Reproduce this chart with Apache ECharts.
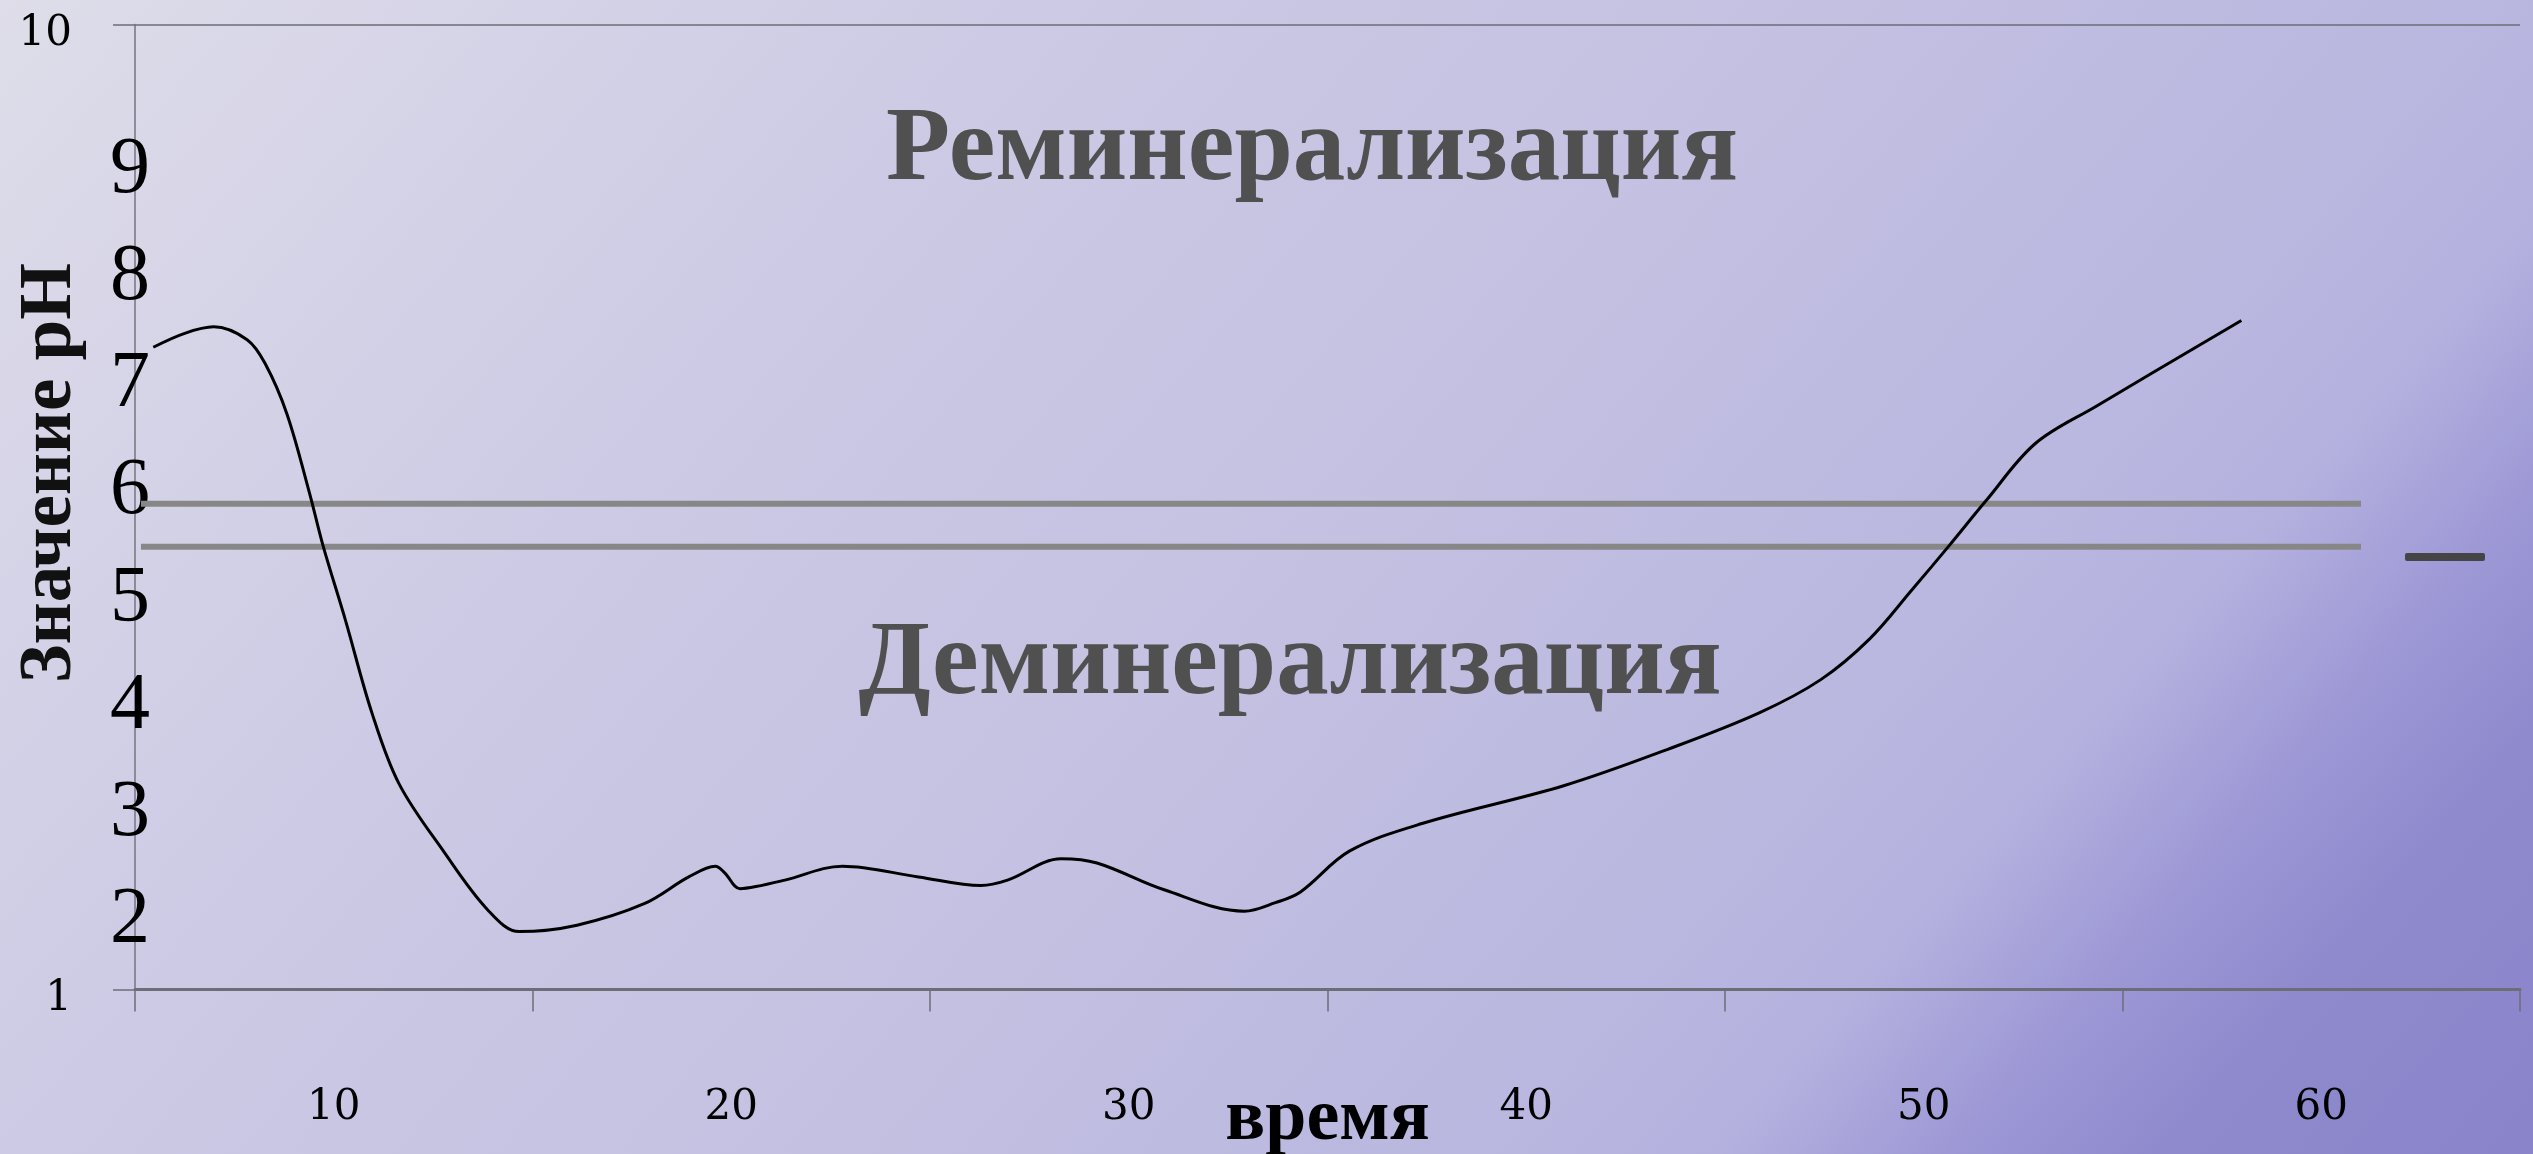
<!DOCTYPE html>
<html>
<head>
<meta charset="utf-8">
<script src="https://cdn.jsdelivr.net/npm/echarts@6/dist/echarts.min.js"></script>
<style>
html,body{margin:0;padding:0;overflow:hidden;}
#chart{width:2533px;height:1154px;}
</style>
</head>
<body>
<div id="chart"></div>
<script>
// ---- data ----
const timeCategories = ['10', '20', '30', '40', '50', '60'];
const timeX = [5.46, 6.25, 6.98, 7.82, 8.27, 8.82, 9.39, 9.73, 10.29, 10.96, 11.64, 12.76, 13.88, 14.67,
  16.12, 17.81, 18.93, 19.60, 19.83, 20.22, 20.62, 21.35, 22.80, 24.71, 26.28, 26.95, 28.30, 29.20,
  30.89, 32.91, 33.69, 34.32, 35.55, 37.40, 40.94, 43.56, 45.86, 47.41, 48.64, 49.71, 50.64, 51.57,
  52.80, 54.34, 57.99];
const phValues = [6.99, 7.12, 7.18, 7.06, 6.84, 6.37, 5.63, 5.14, 4.45, 3.58, 2.92, 2.29, 1.74, 1.54,
  1.60, 1.80, 2.05, 2.15, 2.09, 1.94, 1.96, 2.02, 2.15, 2.05, 1.97, 2.02, 2.22, 2.18,
  1.93, 1.73, 1.81, 1.91, 2.29, 2.55, 2.90, 3.24, 3.58, 3.89, 4.27, 4.73, 5.14, 5.56,
  6.09, 6.44, 7.24];
const thresholdLevels = [5.53, 5.13];
const thresholdSpan = [5.15, 61];
const yEndLabels = [1, 10];
const yBigLabels = [2, 3, 4, 5, 6, 7, 8, 9];
const zoneLabels = ['Реминерализация', 'Деминерализация'];
const yTitle = 'Значение pH';
const xTitle = 'время';

const chart = echarts.init(document.getElementById('chart'), null, {renderer: 'canvas'});

const curve = timeX.map((x, i) => [x, phValues[i]]);
const thresholdSeries = thresholdLevels.map((lv, i) => ({
  name: 'Порог ' + (i + 1),
  type: 'line',
  xAxisIndex: 1,
  yAxisIndex: 0,
  symbol: 'none',
  silent: true,
  lineStyle: {color: '#878787', width: 6, cap: 'butt'},
  data: thresholdSpan.map(x => [x, lv]),
  z: 2
}));

const bg = new echarts.graphic.LinearGradient(0, 0, 2001, 1758, [
  {offset: 0, color: '#dedde9'},
  {offset: 0.29, color: '#cdcae5'},
  {offset: 0.5, color: '#c4c1e2'},
  {offset: 0.7, color: '#bab7e0'},
  {offset: 0.77, color: '#b4b1df'},
  {offset: 0.84, color: '#9c97d5'},
  {offset: 0.895, color: '#8f8acd'},
  {offset: 1, color: '#8a85cb'}
], true);

const option = {
  animation: false,
  grid: {left: 135, right: 13, top: 24.5, bottom: 164.5, outerBoundsMode: 'none'},
  legend: {
    left: 2400, top: 548,
    itemWidth: 80, itemHeight: 8,
    formatter: () => '',
    selectedMode: false,
    data: [{name: 'pH', icon: 'roundRect', itemStyle: {color: '#454545'}}]
  },
  xAxis: [
    {
      type: 'category',
      data: timeCategories,
      boundaryGap: true,
      position: 'bottom',
      axisLine: {show: true, lineStyle: {color: '#6d6d78', width: 3}},
      axisTick: {show: true, length: 22, lineStyle: {color: '#6d6d78', width: 1.5}},
      axisLabel: {margin: 98, fontFamily: 'DejaVu Serif', fontSize: 42, color: '#000'},
      splitLine: {show: false},
      name: xTitle,
      nameLocation: 'middle',
      nameGap: 93,
      nameMoveOverlap: false,
      nameTextStyle: {fontFamily: 'Liberation Serif', fontWeight: 'bold', fontSize: 74, color: '#000'}
    },
    {type: 'value', min: 5, max: 65, show: false}
  ],
  yAxis: [
    {
      type: 'value',
      min: 1, max: 10, interval: 1,
      position: 'left',
      axisLine: {show: true, lineStyle: {color: '#75757f', width: 1.5}},
      axisTick: {show: true, length: 22, customValues: yEndLabels, lineStyle: {color: '#6d6d78', width: 1.5}},
      axisLabel: {
        customValues: yEndLabels, margin: 63, lineHeight: 20,
        fontFamily: 'DejaVu Serif', fontSize: 42, color: '#000',
        formatter: v => '\n' + v
      },
      splitLine: {show: true, lineStyle: {color: '#6d6d78', width: 1.5}}
    },
    {
      type: 'value',
      min: 1, max: 10, interval: 1,
      position: 'left',
      axisLine: {show: false},
      axisTick: {show: false},
      splitLine: {show: false},
      axisLabel: {
        margin: -15,
        lineHeight: 78,
        fontFamily: 'Liberation Serif', fontSize: 80, color: '#000',
        formatter: v => (yBigLabels.indexOf(v) >= 0 ? '\n' + v : '')
      }
    }
  ],
  series: [
    {
      name: 'pH',
      type: 'line',
      xAxisIndex: 1,
      yAxisIndex: 0,
      smooth: 0.35,
      symbol: 'none',
      lineStyle: {color: '#000', width: 3},
      itemStyle: {color: '#000'},
      data: curve,
      z: 3
    }
  ].concat(thresholdSeries),
  graphic: [
    {type: 'rect', silent: true, z: -100, shape: {x: 0, y: 0, width: 2533, height: 1154}, style: {fill: bg}},
    {type: 'text', silent: true, x: 1312, y: 152, style: {text: zoneLabels[0], fontFamily: 'Liberation Serif', fontWeight: 'bold', fontSize: 105, fill: '#505050', align: 'center', verticalAlign: 'middle'}},
    {type: 'text', silent: true, x: 1290, y: 666, style: {text: zoneLabels[1], fontFamily: 'Liberation Serif', fontWeight: 'bold', fontSize: 105, fill: '#505050', align: 'center', verticalAlign: 'middle'}},
    {type: 'text', silent: true, x: 51, y: 473, rotation: Math.PI / 2, style: {text: yTitle, fontFamily: 'Liberation Serif', fontWeight: 'bold', fontSize: 73, fill: '#111', align: 'center', verticalAlign: 'middle'}}
  ]
};
chart.setOption(option);
</script>
</body>
</html>
